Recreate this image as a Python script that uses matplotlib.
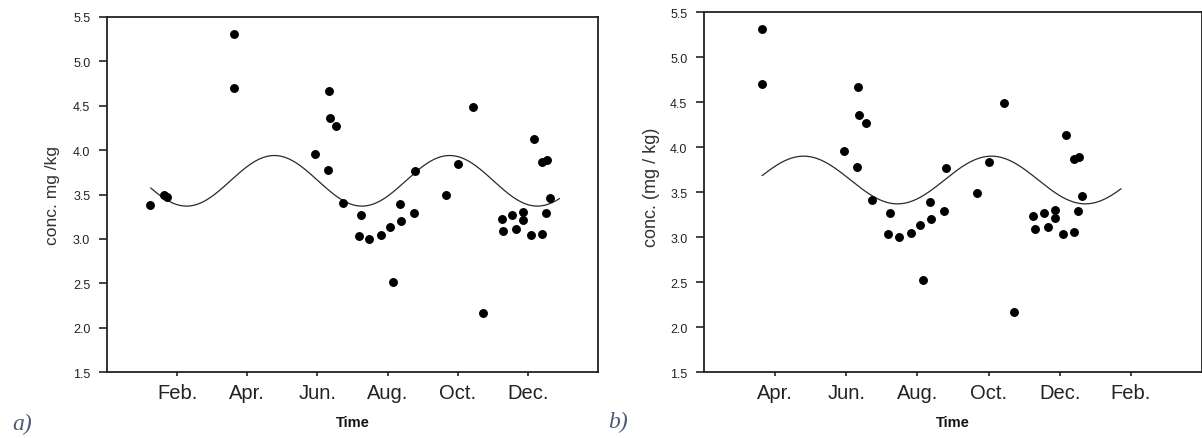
import numpy as np
import matplotlib
matplotlib.use("Agg")
import matplotlib.pyplot as plt

# Sampling time (month number, Jan = 1) and measured concentration (mg/kg)
sample_month = [1.23, 1.64, 1.70, 3.62, 3.62, 5.94, 6.30, 6.34, 6.36, 6.54,
                6.73, 7.18, 7.24, 7.48, 7.82, 8.07, 8.15, 8.35, 8.38, 8.74,
                8.79, 9.67, 10.02, 10.44, 10.72, 11.25, 11.30, 11.56, 11.66, 11.87,
                11.87, 12.08, 12.18, 12.39, 12.41, 12.51, 12.54, 12.62]
conc = [3.38, 3.50, 3.47, 5.31, 4.70, 3.96, 3.78, 4.67, 4.36, 4.27,
        3.41, 3.03, 3.27, 3.00, 3.05, 3.13, 2.52, 3.39, 3.20, 3.29,
        3.77, 3.49, 3.84, 4.49, 2.17, 3.23, 3.09, 3.27, 3.11, 3.30,
        3.21, 3.04, 4.13, 3.06, 3.87, 3.29, 3.89, 3.46]

# Harmonic fits: mean level, amplitude, period (months), month of peak, fitted span
fit_a = dict(mean=3.655, amp=0.285, period=5.0, peak=4.77, start=1.25, end=12.9)
fit_b = dict(mean=3.635, amp=0.265, period=5.28, peak=4.80, start=3.64, end=13.72)

ticks_a = [2, 4, 6, 8, 10, 12]
labels_a = ["Feb.", "Apr.", "Jun.", "Aug.", "Oct.", "Dec."]
ticks_b = [4, 6, 8, 10, 12, 14]
labels_b = ["Apr.", "Jun.", "Aug.", "Oct.", "Dec.", "Feb."]
yticks = [1.5, 2.0, 2.5, 3.0, 3.5, 4.0, 4.5, 5.0, 5.5]

SANS = ["Liberation Sans", "DejaVu Sans"]
SERIF = ["Liberation Serif", "DejaVu Serif"]


def harmonic(fit):
    t = np.linspace(fit["start"], fit["end"], 400)
    return t, fit["mean"] + fit["amp"] * np.cos(2 * np.pi * (t - fit["peak"]) / fit["period"])


def style(ax, ticks, labels, xlim, ylabel, ylabel_xy, ylabel_size):
    ax.set_xlim(*xlim)
    ax.set_ylim(1.5, 5.5)
    ax.set_xticks(ticks)
    ax.set_xticklabels(labels, family=SANS, fontsize=14.5, color="#222222")
    ax.set_yticks(yticks)
    ax.set_yticklabels([f"{v:.1f}" for v in yticks], family=SANS, fontsize=9, color="#222222")
    ax.tick_params(axis="x", direction="out", length=3, width=1.2, color="#222222", pad=5)
    ax.tick_params(axis="y", direction="out", length=6, width=1.2, color="#222222", pad=6)
    for s in ax.spines.values():
        s.set_linewidth(1.3)
        s.set_color("#222222")
    ax.set_xlabel("Time", family=SANS, fontsize=10.5, weight="bold", color="#151515", labelpad=9)
    ax.set_ylabel(ylabel, family=SANS, fontsize=ylabel_size, color="#333333")
    ax.yaxis.set_label_coords(*ylabel_xy)


fig = plt.figure(figsize=(12.02, 4.39), dpi=100)
ax_a = fig.add_axes([0.089, 0.150, 0.4085, 0.809])
ax_b = fig.add_axes([0.5857, 0.150, 0.4143, 0.820])

for ax, fit in ((ax_a, fit_a), (ax_b, fit_b)):
    t, y = harmonic(fit)
    ax.plot(t, y, color="#2a2a2a", lw=0.9)
    ax.plot(sample_month, conc, "o", color="black", markersize=5.4, clip_on=True)

style(ax_a, ticks_a, labels_a, (0, 14), "conc. mg /kg", (-0.096, 0.5), 12.5)
style(ax_b, ticks_b, labels_b, (2, 16), "conc. (mg / kg)", (-0.088, 0.515), 13)

fig.text(0.010, 0.021, "a)", family=SERIF, style="italic", fontsize=17, color="#4a5a78")
fig.text(0.506, 0.024, "b)", family=SERIF, style="italic", fontsize=17, color="#4a5a78")

fig.savefig("out.png", dpi=100)
